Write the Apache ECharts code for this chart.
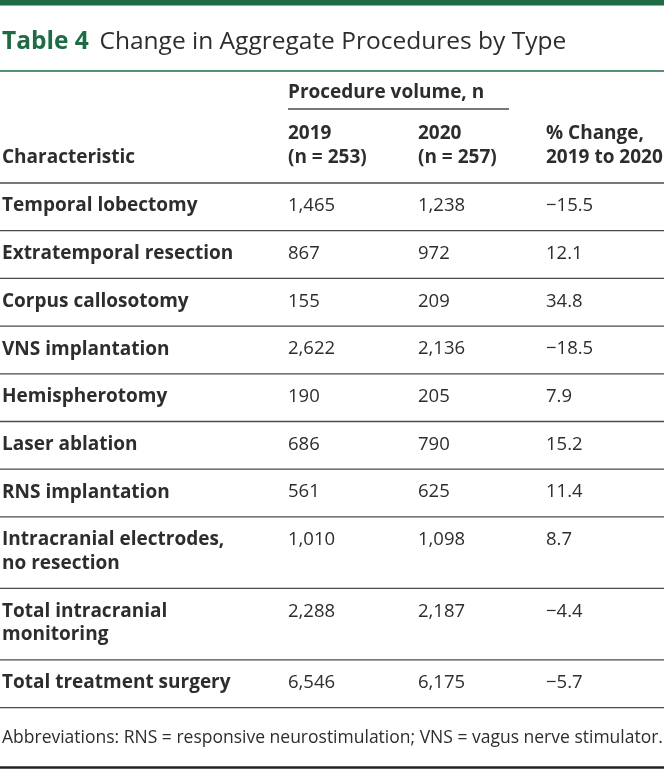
<!DOCTYPE html>
<html><head><meta charset="utf-8">
<script src="https://cdn.jsdelivr.net/npm/echarts@6/dist/echarts.min.js"></script>
<style>html,body{margin:0;padding:0;background:#fff;overflow:hidden}#c{width:664px;height:769px}</style>
</head><body><div id="c"></div>
<script>
// ---------- data ----------
const tableLabel = 'Table 4';
const tableTitle = 'Change in Aggregate Procedures by Type';
const spanHeader = 'Procedure volume, n';
const columnHeaders = [['', 'Characteristic'], ['2019', '(n = 253)'], ['2020', '(n = 257)'], ['% Change,', '2019 to 2020']];
const characteristics = [
  'Temporal lobectomy',
  'Extratemporal resection',
  'Corpus callosotomy',
  'VNS implantation',
  'Hemispherotomy',
  'Laser ablation',
  'RNS implantation',
  'Intracranial electrodes,\nno resection',
  'Total intracranial\nmonitoring',
  'Total treatment surgery'
];
const volume2019 = [1465, 867, 155, 2622, 190, 686, 561, 1010, 2288, 6546];
const volume2020 = [1238, 972, 209, 2136, 205, 790, 625, 1098, 2187, 6175];
const pctChange = [-15.5, 12.1, 34.8, -18.5, 7.9, 15.2, 11.4, 8.7, -4.4, -5.7];
const footnote = 'Abbreviations: RNS = responsive neurostimulation; VNS = vagus nerve stimulator.';

// ---------- layout / style ----------
const W = 664, H = 769;
const FONT = '"Open Sans", "Noto Sans", sans-serif';
const GREEN = '#1e6b45';
const TEXT = '#2d2d2d';
const RULE = '#4a4a4a';
const colX = [2, 288, 418, 546];
const bodyTop = 183, rowH = 47.7, extraLine = 23.8, lineH = 23.6, firstCenter = 23;
const boldSize = 19, regSize = 18.5;

const fmtN = v => v.toLocaleString('en-US');
const fmtP = v => (v < 0 ? '\u2212' : '') + Math.abs(v).toFixed(1);

// row tops
const rowTops = [];
let yy = bodyTop;
characteristics.forEach(c => {
  rowTops.push(yy);
  yy += rowH + (c.split('\n').length - 1) * extraLine;
});
const rowBottoms = rowTops.map((t, i) => t + rowH + (characteristics[i].split('\n').length - 1) * extraLine);

const cellData = [];
characteristics.forEach((c, r) => {
  cellData.push([0, r]); cellData.push([1, r]); cellData.push([2, r]); cellData.push([3, r]);
});
function cellText(col, r) {
  if (col === 0) return characteristics[r];
  if (col === 1) return fmtN(volume2019[r]);
  if (col === 2) return fmtN(volume2020[r]);
  return fmtP(pctChange[r]);
}

const ruleData = [bodyTop].concat(rowBottoms);
const boldFont = 'bold ' + boldSize + 'px ' + FONT;

const chart = echarts.init(document.getElementById('c'), null, { renderer: 'canvas' });
chart.setOption({
  animation: false,
  backgroundColor: '#fff',
  grid: { left: 0, right: 0, top: 0, bottom: 0 },
  xAxis: { type: 'value', min: 0, max: W, show: false },
  yAxis: { type: 'value', min: 0, max: H, inverse: true, show: false },
  graphic: [
    { type: 'rect', shape: { x: 0, y: 0, width: W, height: 5.5 }, style: { fill: GREEN } },
    { type: 'text', x: 2, y: 42.5, style: { text: tableLabel, font: 'bold 24.5px ' + FONT, fill: GREEN, verticalAlign: 'middle' } },
    { type: 'text', x: 99.5, y: 42.5, style: { text: tableTitle, font: '24.5px ' + FONT, fill: TEXT, verticalAlign: 'middle' } },
    { type: 'line', shape: { x1: 0, y1: 71, x2: W, y2: 71 }, style: { stroke: GREEN, lineWidth: 1.6 } },
    { type: 'text', x: colX[1], y: 93, style: { text: spanHeader, font: boldFont, fill: TEXT, verticalAlign: 'middle' } },
    { type: 'line', shape: { x1: colX[1], y1: 109, x2: 509, y2: 109 }, style: { stroke: RULE, lineWidth: 1.3 } },
    ...columnHeaders.flatMap((h, i) => [
      { type: 'text', x: colX[i], y: 134, style: { text: h[0], font: boldFont, fill: TEXT, verticalAlign: 'middle' } },
      { type: 'text', x: colX[i], y: 158, style: { text: h[1], font: boldFont, fill: TEXT, verticalAlign: 'middle' } }
    ]),
    { type: 'text', x: 2, y: 738, style: { text: footnote, font: '17.5px ' + FONT, fill: TEXT, verticalAlign: 'middle' } },
    { type: 'line', shape: { x1: 0, y1: 767.5, x2: W, y2: 767.5 }, style: { stroke: '#222', lineWidth: 2.6 } }
  ],
  series: [
    {
      type: 'custom',
      name: 'rules',
      coordinateSystem: 'cartesian2d',
      data: ruleData.map(y => [0, y]),
      renderItem: function (params, api) {
        const p1 = api.coord([0, api.value(1)]);
        const p2 = api.coord([W, api.value(1)]);
        return { type: 'line', shape: { x1: p1[0], y1: p1[1], x2: p2[0], y2: p2[1] }, style: { stroke: RULE, lineWidth: 1.3 } };
      }
    },
    {
      type: 'custom',
      name: 'cells',
      coordinateSystem: 'cartesian2d',
      data: cellData,
      renderItem: function (params, api) {
        const col = api.value(0), r = api.value(1);
        const p = api.coord([colX[col], rowTops[r] + firstCenter - lineH / 2]);
        return {
          type: 'text', x: p[0], y: p[1],
          style: {
            text: cellText(col, r),
            font: (col === 0 ? 'bold ' + boldSize : regSize) + 'px ' + FONT,
            fill: TEXT, align: 'left', verticalAlign: 'top', lineHeight: lineH
          }
        };
      }
    }
  ]
});
</script></body></html>
